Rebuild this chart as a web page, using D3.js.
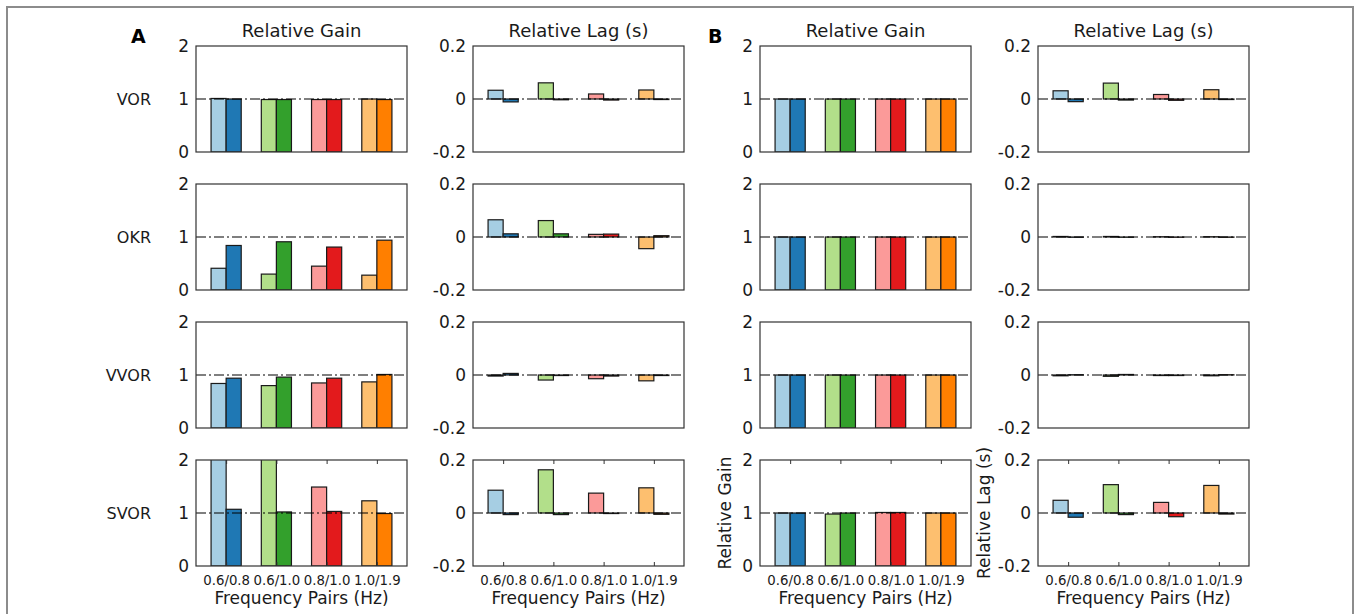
<!DOCTYPE html>
<html>
<head>
<meta charset="utf-8">
<script src="https://cdn.jsdelivr.net/npm/d3@7"></script>
<style>
  html, body { margin: 0; padding: 0; background: #fff; }
  svg { display: block; font-family: "DejaVu Sans", Verdana, sans-serif; }
</style>
</head>
<body>
<svg id="fig" width="1360" height="614"></svg>
<script>
// Frequency pairs and reflex conditions
const categories = ["0.6/0.8", "0.6/1.0", "0.8/1.0", "1.0/1.9"];
const reflexes = ["VOR", "OKR", "VVOR", "SVOR"];
const lightColors = ["#a6cee3", "#b2df8a", "#fb9a99", "#fdbf6f"];
const darkColors  = ["#1f78b4", "#33a02c", "#e31a1c", "#ff7f00"];

// Each entry: [lower-frequency value, higher-frequency value] per pair
// Panel A - relative gain
const gainA_VOR  = [[1.01, 1.00], [0.99, 0.99], [0.99, 0.99], [1.00, 0.99]];
const gainA_OKR  = [[0.41, 0.84], [0.30, 0.91], [0.45, 0.81], [0.28, 0.94]];
const gainA_VVOR = [[0.84, 0.94], [0.80, 0.96], [0.85, 0.94], [0.87, 1.01]];
const gainA_SVOR = [[2.40, 1.07], [2.70, 1.02], [1.49, 1.03], [1.23, 0.99]];
// Panel A - relative lag (s)
const lagA_VOR  = [[0.033, -0.011], [0.061, -0.003], [0.019, -0.004], [0.034, -0.002]];
const lagA_OKR  = [[0.065, 0.012], [0.062, 0.012], [0.010, 0.011], [-0.044, 0.005]];
const lagA_VVOR = [[-0.004, 0.006], [-0.019, -0.002], [-0.014, -0.004], [-0.022, -0.002]];
const lagA_SVOR = [[0.086, -0.006], [0.163, -0.006], [0.075, -0.002], [0.095, -0.005]];
// Panel B - relative gain
const gainB_VOR  = [[1.00, 1.00], [1.00, 1.00], [1.00, 1.00], [1.00, 1.00]];
const gainB_OKR  = [[1.00, 1.00], [1.00, 1.00], [1.00, 1.00], [1.00, 1.00]];
const gainB_VVOR = [[1.00, 1.00], [1.00, 1.00], [1.00, 1.00], [1.00, 1.00]];
const gainB_SVOR = [[1.00, 1.00], [0.98, 1.00], [1.01, 1.01], [1.00, 1.00]];
// Panel B - relative lag (s)
const lagB_VOR  = [[0.031, -0.010], [0.060, -0.004], [0.017, -0.005], [0.035, -0.002]];
const lagB_OKR  = [[0.002, -0.001], [0.002, -0.001], [0.001, -0.001], [0.001, -0.001]];
const lagB_VVOR = [[-0.003, 0.001], [-0.005, 0.002], [-0.002, -0.002], [-0.003, 0.001]];
const lagB_SVOR = [[0.048, -0.016], [0.107, -0.006], [0.040, -0.014], [0.104, -0.004]];

// Axis ticks
const gainTicks = [0, 1, 2];
const gainTickLabels = ["0", "1", "2"];
const lagTicks = [-0.2, 0, 0.2];
const lagTickLabels = ["-0.2", "0", "0.2"];

const columnTitles = ["Relative Gain", "Relative Lag (s)", "Relative Gain", "Relative Lag (s)"];
const xAxisTitle = "Frequency Pairs (Hz)";

// Panels: column index -> data per row
const columns = [
  { kind: "gain", rows: [gainA_VOR, gainA_OKR, gainA_VVOR, gainA_SVOR] },
  { kind: "lag",  rows: [lagA_VOR, lagA_OKR, lagA_VVOR, lagA_SVOR] },
  { kind: "gain", rows: [gainB_VOR, gainB_OKR, gainB_VVOR, gainB_SVOR] },
  { kind: "lag",  rows: [lagB_VOR, lagB_OKR, lagB_VVOR, lagB_SVOR] }
];

// Layout
const colX = [196, 473, 760, 1038];
const rowY = [46, 184, 322, 460];
const panelW = 211, panelH = 106;
const textColor = "#1a1a1a";

const svg = d3.select("#fig");

// Outer frame
svg.append("rect")
  .attr("x", 7).attr("y", 7).attr("width", 1346).attr("height", 640)
  .attr("fill", "none").attr("stroke", "#8c8c8c").attr("stroke-width", 2);

const x = d3.scaleLinear().domain([0.4, 4.6]).range([0, panelW]);
const yGain = d3.scaleLinear().domain([0, 2]).range([panelH, 0]);
const yLag = d3.scaleLinear().domain([-0.2, 0.2]).range([panelH, 0]);
const barW = 0.3;

columns.forEach((col, ci) => {
  const y = col.kind === "gain" ? yGain : yLag;
  const ticks = col.kind === "gain" ? gainTicks : lagTicks;
  const tickLabels = col.kind === "gain" ? gainTickLabels : lagTickLabels;
  const ref = col.kind === "gain" ? 1 : 0;
  const base = 0;

  col.rows.forEach((rowData, ri) => {
    const g = svg.append("g").attr("transform", `translate(${colX[ci]},${rowY[ri]})`);
    const clipId = `clip-${ci}-${ri}`;
    g.append("clipPath").attr("id", clipId)
      .append("rect").attr("x", 0).attr("y", 0).attr("width", panelW).attr("height", panelH);

    const bars = [];
    rowData.forEach((pair, i) => {
      bars.push({ x0: i + 1 - barW, v: pair[0], color: lightColors[i] });
      bars.push({ x0: i + 1, v: pair[1], color: darkColors[i] });
    });

    g.append("g").attr("clip-path", `url(#${clipId})`)
      .selectAll("rect").data(bars).join("rect")
      .attr("x", d => x(d.x0))
      .attr("width", d => x(d.x0 + barW) - x(d.x0))
      .attr("y", d => Math.min(y(d.v), y(base)))
      .attr("height", d => Math.abs(y(d.v) - y(base)))
      .attr("fill", d => d.color)
      .attr("stroke", "#1a1a1a").attr("stroke-width", 1.2);

    // Reference line
    g.append("line")
      .attr("x1", 0).attr("x2", panelW)
      .attr("y1", y(ref)).attr("y2", y(ref))
      .attr("stroke", "#000").attr("stroke-width", 1.1)
      .attr("stroke-dasharray", "10,3,2,3");

    // Y axis labels
    const yAxis = d3.axisLeft(y).tickValues(ticks)
      .tickFormat((d, k) => tickLabels[k]).tickSize(0).tickPadding(7);
    const ya = g.append("g").call(yAxis);
    ya.select(".domain").remove();
    ya.selectAll("text").attr("font-size", 17).attr("fill", textColor)
      .attr("font-family", "DejaVu Sans, Verdana, sans-serif");

    // Bottom row: x ticks and labels
    if (ri === 3) {
      const xAxis = d3.axisBottom(x).tickValues([1, 2, 3, 4])
        .tickFormat((d, k) => categories[k]).tickSize(-4).tickPadding(10);
      const xa = g.append("g").attr("transform", `translate(0,${panelH})`).call(xAxis);
      xa.select(".domain").remove();
      xa.selectAll("line").attr("stroke", "#333");
      xa.selectAll("text").attr("font-size", 13.3).attr("fill", textColor)
        .attr("font-family", "DejaVu Sans, Verdana, sans-serif");
      const xTop = d3.axisTop(x).tickValues([1, 2, 3, 4]).tickFormat("").tickSize(-4);
      const xt = g.append("g").call(xTop);
      xt.select(".domain").remove();
      xt.selectAll("line").attr("stroke", "#333");

      g.append("text")
        .attr("x", panelW / 2).attr("y", 144)
        .attr("text-anchor", "middle").attr("font-size", 17).attr("fill", textColor)
        .text(xAxisTitle);
    }

    // Panel frame
    g.append("rect")
      .attr("width", panelW).attr("height", panelH)
      .attr("fill", "none").attr("stroke", "#333").attr("stroke-width", 1.2);
  });

  // Column title
  svg.append("text")
    .attr("x", colX[ci] + panelW / 2).attr("y", 37)
    .attr("text-anchor", "middle").attr("font-size", 18).attr("fill", textColor)
    .text(columnTitles[ci]);
});

// Row labels for panel A
reflexes.forEach((name, ri) => {
  svg.append("text")
    .attr("x", 151).attr("y", rowY[ri] + yGain(1) + 6)
    .attr("text-anchor", "end").attr("font-size", 16).attr("fill", textColor)
    .text(name);
});

// Y-axis titles on the bottom row of panel B
svg.append("text")
  .attr("transform", `translate(731,${rowY[3] + panelH / 2}) rotate(-90)`)
  .attr("text-anchor", "middle").attr("font-size", 17).attr("fill", textColor)
  .text("Relative Gain");
svg.append("text")
  .attr("transform", `translate(990,${rowY[3] + panelH / 2}) rotate(-90)`)
  .attr("text-anchor", "middle").attr("font-size", 17).attr("fill", textColor)
  .text("Relative Lag (s)");

// Panel letters
svg.append("text").attr("x", 131).attr("y", 43)
  .attr("font-size", 19).attr("font-weight", "bold").attr("fill", "#000").text("A");
svg.append("text").attr("x", 708).attr("y", 43)
  .attr("font-size", 19).attr("font-weight", "bold").attr("fill", "#000").text("B");
</script>
</body>
</html>
